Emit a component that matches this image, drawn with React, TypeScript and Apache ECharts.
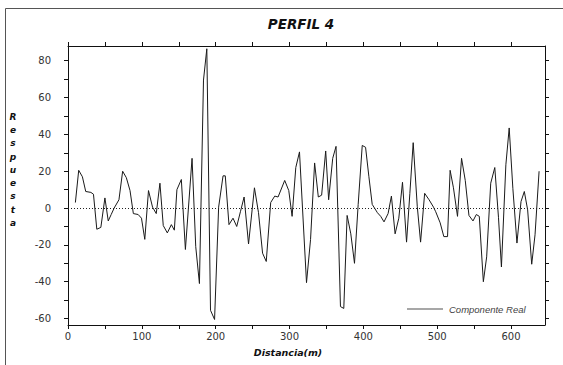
import React, { useEffect, useRef } from "react";
import * as echarts from "echarts";

const distances = [
  10, 14.5, 19.5, 24, 31, 34.5, 39, 44.5, 50, 54.5, 58.5, 62.5, 69, 74, 79, 84, 88.5, 95, 99.5, 104,
  109, 114.5, 119.5, 124.5, 129, 134.5, 140, 144, 147.5, 153.5, 159, 168, 173, 178, 183.5, 188, 193, 198.5, 204, 210,
  213, 218, 223.5, 228.5, 233.5, 238.5, 244.5, 252.5, 258, 263.5, 268.5, 274.5, 280, 284.5, 293.5, 299, 303.5, 308.5, 313.5, 323,
  328.5, 334, 339, 343.5, 349, 353, 358.5, 363, 369, 373.5, 378, 383, 388, 393, 398.5, 403, 407.5, 412, 419, 423.5,
  428, 433.5, 438, 443, 448, 453, 458.5, 463, 467.5, 473, 477.5, 483, 489, 495, 498, 504, 509, 514, 517.5, 522,
  527.5, 533, 538, 543, 548.5, 553, 557, 562.5, 567, 572.5, 578, 583, 587, 593, 597.5, 602.5, 608, 613.5, 618, 622.5,
  628, 632.5, 638,
];

const values = [
  3, 20.5, 17, 9, 8.5, 7.5, -11.5, -10.5, 5.5, -7, -3.5, 0, 4.5, 20, 16.5, 9.5, -3, -3.5, -5.5, -17,
  9.5, 0.5, -3, 13.5, -9.5, -13.5, -9, -12, 10, 15.5, -22.5, 27, -21, -41, 69.5, 86.5, -55.5, -60.5, 0.5, 17.5,
  17.5, -9, -5.5, -10, -2, 6, -19.5, 11, -2.5, -24.5, -29, 3, 6.5, 6, 15, 9.5, -4.5, 22, 30.5, -40.5,
  -17, 24.5, 6, 7, 31, 4.5, 27, 33.5, -53.5, -54.5, -4, -14, -30, 2, 34, 33, 17, 2, -2.5, -4.5,
  -7.5, -3, 6.5, -14, -5.5, 14, -18.5, 8, 35.5, 1, -18.5, 8, 4.5, 0.5, -2, -8, -15.5, -15.5, 20.5, 11,
  -4.5, 27, 15, -4, -7, -3.5, -4.5, -40, -26.5, 13.5, 22, -5, -32, 23.5, 43.5, 10.5, -19, 3.5, 9, -1,
  -30.5, -14.5, 20,
];

const xTickValues = [0, 50, 100, 150, 200, 250, 300, 350, 400, 450, 500, 550, 600];
const xLabelValues = [0, 100, 200, 300, 400, 500, 600];
const yTickValues = [-60, -50, -40, -30, -20, -10, 0, 10, 20, 30, 40, 50, 60, 70, 80];
const yLabelValues = [-60, -40, -20, 0, 20, 40, 60, 80];

const titleText = "PERFIL 4";
const xName = "Distancia(m)";
const yName = "Respuesta";
const seriesName = "Componente Real";

export default function App() {
  const ref = useRef<HTMLDivElement>(null);
  useEffect(() => {
    if (!ref.current) return;
    const chart = echarts.init(ref.current, null, { renderer: "svg" });
    const data = distances.map((d, i) => [d, values[i]]);
    const xMin = 0, xMax = 646, yMin = -63.5, yMax = 88;
    const lineCol = "#111";
    const labelStyle = { fontFamily: "DejaVu Sans", fontSize: 10, color: "#333" };
    const baseX = {
      type: "value", min: xMin, max: xMax,
      axisLine: { show: true, onZero: false, lineStyle: { color: lineCol, width: 1 } },
      axisTick: { show: true, inside: false, length: 4, customValues: xTickValues, lineStyle: { color: lineCol } },
      splitLine: { show: false },
    };
    const baseY = {
      type: "value", min: yMin, max: yMax,
      axisLine: { show: true, onZero: false, lineStyle: { color: lineCol, width: 1 } },
      axisTick: { show: true, inside: false, length: 4, customValues: yTickValues, lineStyle: { color: lineCol } },
      splitLine: { show: false },
    };
    chart.setOption({
      animation: false,
      backgroundColor: "#ffffff",
      title: {
        text: titleText, left: 296, top: 12, textAlign: "center",
        textStyle: { fontFamily: "DejaVu Sans", fontSize: 13.5, fontWeight: "bold", fontStyle: "italic", color: "#111" },
      },
      grid: { left: 68, right: 18, top: 46, bottom: 40, containLabel: false },
      legend: {
        left: 402, top: 299, itemGap: 0, itemWidth: 36, itemHeight: 1.5,
        data: [{ name: seriesName, icon: "rect", itemStyle: { color: "#8a8a8a" } }],
        textStyle: { fontFamily: "Liberation Sans", fontSize: 9.5, fontStyle: "italic", color: "#444", padding: [0, 0, 0, 1] },
      },
      xAxis: [
        { ...baseX, position: "bottom",
          axisLabel: { show: true, margin: 6, customValues: xLabelValues, ...labelStyle } },
        { ...baseX, position: "top", axisLabel: { show: false } },
      ],
      yAxis: [
        { ...baseY, position: "left",
          axisLabel: { show: true, margin: 17, customValues: yLabelValues, ...labelStyle } },
        { ...baseY, position: "right", axisLabel: { show: false } },
      ],
      graphic: [
        { type: "line", shape: { x1: 5.5, y1: 8.5, x2: 563, y2: 8.5 }, style: { stroke: "#555", lineWidth: 1 } },
        { type: "line", shape: { x1: 5.5, y1: 8.5, x2: 5.5, y2: 365 }, style: { stroke: "#555", lineWidth: 1 } },
        {
          type: "text", x: 288, y: 352,
          style: { text: xName, textAlign: "center", textVerticalAlign: "middle",
            font: "italic bold 9.5px 'DejaVu Sans'", fill: "#111" },
        },
        {
          type: "text", x: 13, y: 110,
          style: { text: yName.split("").join("\n"), textAlign: "center", textVerticalAlign: "top",
            font: "italic bold 9px 'DejaVu Sans'", lineHeight: 13.3, fill: "#111" },
        },
      ],
      series: [
        {
          name: seriesName, type: "line", xAxisIndex: 0, yAxisIndex: 0,
          data, showSymbol: false, symbol: "none",
          lineStyle: { color: "#1a1a1a", width: 1 },
          itemStyle: { color: "#1a1a1a" },
          markLine: {
            silent: true, symbol: "none", label: { show: false },
            lineStyle: { color: "#222", type: [1, 2], width: 1 },
            data: [{ yAxis: 0 }],
          },
        },
      ],
    });
    return () => chart.dispose();
  }, []);
  return <div ref={ref} style={{ position: "fixed", left: 0, top: 0, width: 563, height: 365 }} />;
}
